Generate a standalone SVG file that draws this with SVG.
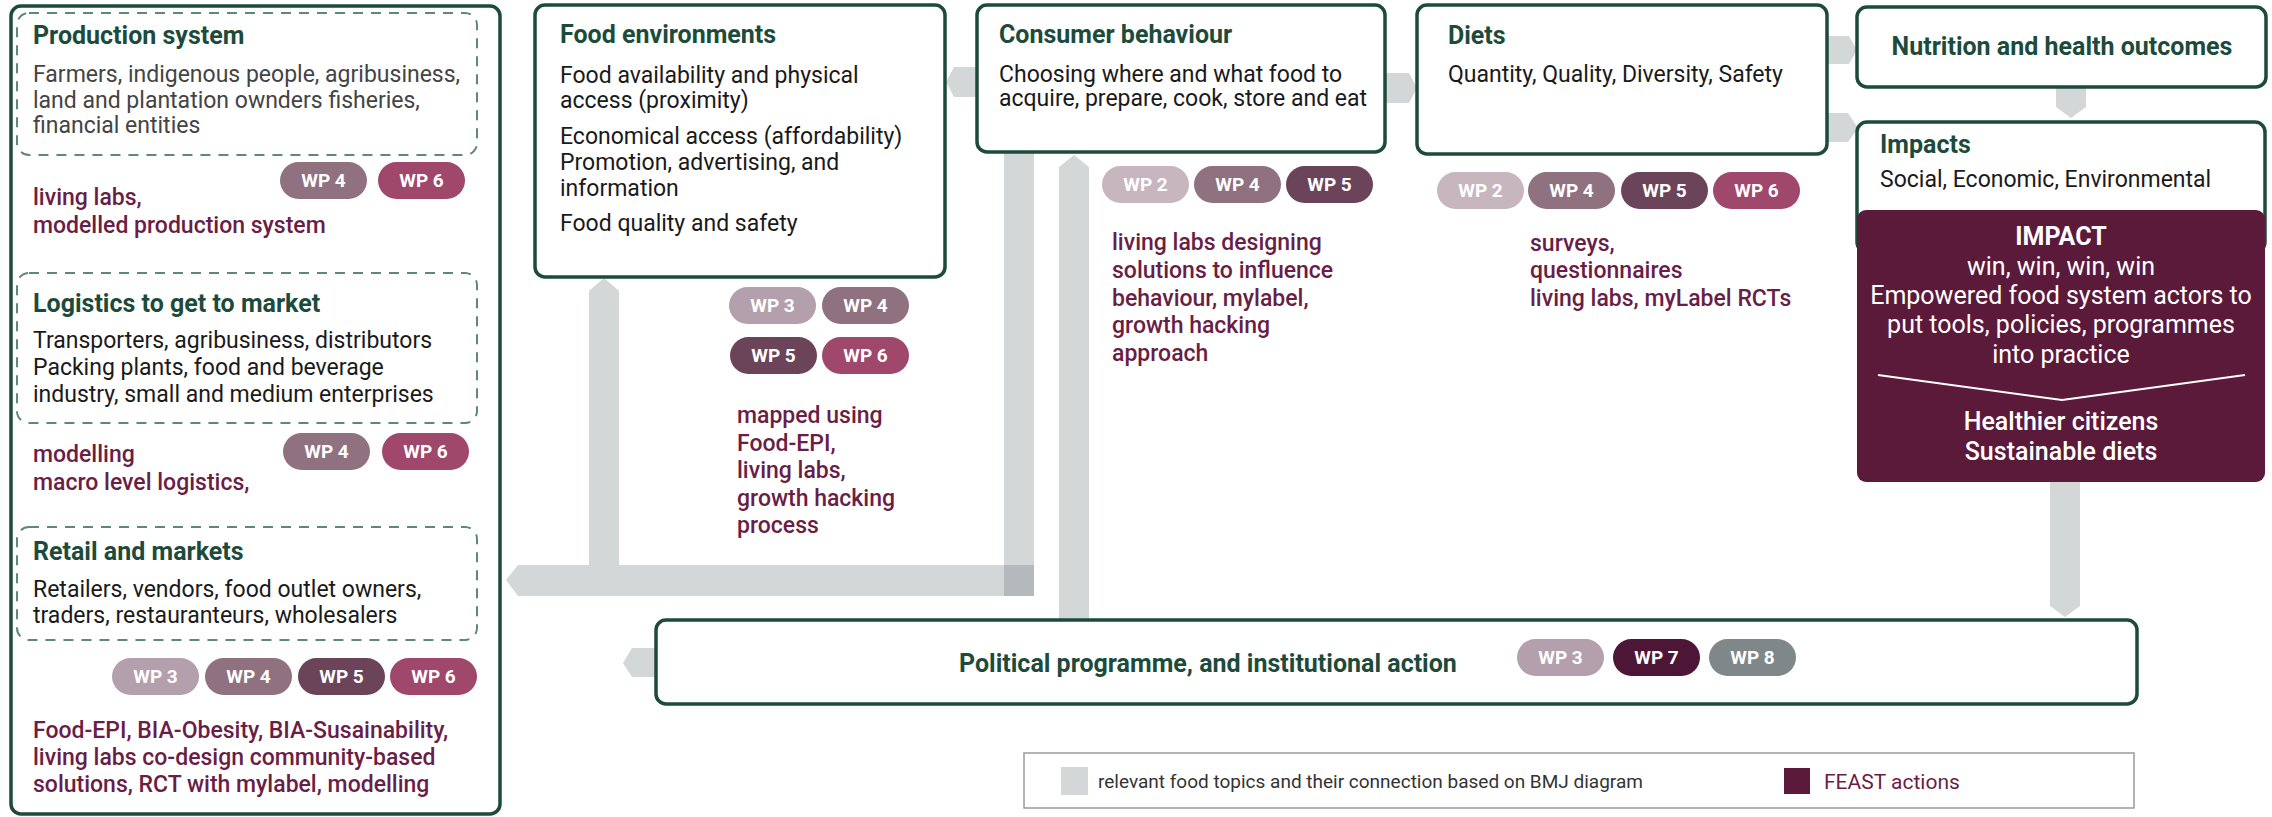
<svg xmlns="http://www.w3.org/2000/svg" width="2272" height="817" viewBox="0 0 2272 817">
  <style>
    text { font-family: Roboto, "Liberation Sans", sans-serif; }
    .title { font-weight: 700; font-size: 25px; fill: #1d4b3b; }
    .body { font-size: 23px; fill: #1a1a1a; }
    .grey { fill: #444; }
    .meth { font-size: 23px; font-weight: 500; fill: #6a1e46; }
    .box { fill: #fff; stroke: #1d4b3b; stroke-width: 3.5; }
    .dash { fill: none; stroke: #5e8878; stroke-width: 2; stroke-dasharray: 10 8; }
    .pill text { font-weight: 700; font-size: 19px; fill: #fff; text-anchor: middle; }
    .conn { fill: #d3d7d8; }
    .wp2 { fill: #c8b6be; } .wp3 { fill: #b4a0ac; } .wp4 { fill: #907180; }
    .wp5 { fill: #6c4459; } .wp6 { fill: #a0476c; } .wp7 { fill: #4e1636; } .wp8 { fill: #808789; }
    .imp { font-size: 25px; fill: #fff; text-anchor: middle; }
  </style>
  <defs>
    <rect id="pillShape" width="87" height="37" rx="18.5"/>
  </defs>

  <!-- connectors -->
  <g id="connectors">
    <polygon class="conn" points="946,82 954,67 977,67 977,97 954,97"/>
    <polygon class="conn" points="1386,73 1409,73 1417,88 1409,103 1386,103"/>
    <polygon class="conn" points="1827,36 1849,36 1857,50 1849,64 1827,64"/>
    <polygon class="conn" points="1827,113 1848,113 1858,128 1848,142 1827,142"/>
    <polygon class="conn" points="2056,87 2086,87 2086,107 2071,118 2056,107"/>
    <rect class="conn" x="1004" y="152" width="30" height="413"/>
    <polygon class="conn" points="506,580 518,565 1004,565 1004,596 518,596"/>
    <rect x="1004" y="565" width="30" height="31" fill="#b4b9bb"/>
    <polygon class="conn" points="589,565 589,291 604,278 619,291 619,565"/>
    <polygon class="conn" points="1059,620 1059,167 1074,155 1089,167 1089,620"/>
    <polygon class="conn" points="2050,482 2080,482 2080,606 2065,617 2050,606"/>
    <polygon class="conn" points="623,663 632,648 656,648 656,677 632,677"/>
  </g>

  <!-- food system actors column -->
  <g id="actors">
    <rect class="box" x="11" y="6" width="489" height="808" rx="10"/>
  </g>

  <g id="production-system">
    <rect class="dash" x="17" y="13" width="460" height="142" rx="12"/>
    <text class="title" x="33" y="44">Production system</text>
    <text class="body grey" x="33" y="82">Farmers, indigenous people, agribusiness,</text>
    <text class="body grey" x="33" y="108">land and plantation ownders fisheries,</text>
    <text class="body grey" x="33" y="133">financial entities</text>
    <g class="pill" transform="translate(280,162)"><use href="#pillShape" class="wp4"/><text x="43.5" y="25">WP 4</text></g>
    <g class="pill" transform="translate(378,162)"><use href="#pillShape" class="wp6"/><text x="43.5" y="25">WP 6</text></g>
    <text class="meth" x="33" y="205">living labs,</text>
    <text class="meth" x="33" y="233">modelled production system</text>
  </g>

  <g id="logistics">
    <rect class="dash" x="17" y="273" width="460" height="150" rx="12"/>
    <text class="title" x="33" y="312">Logistics to get to market</text>
    <text class="body" x="33" y="348">Transporters, agribusiness, distributors</text>
    <text class="body" x="33" y="375">Packing plants, food and beverage</text>
    <text class="body" x="33" y="402">industry, small and medium enterprises</text>
    <g class="pill" transform="translate(283,433)"><use href="#pillShape" class="wp4"/><text x="43.5" y="25">WP 4</text></g>
    <g class="pill" transform="translate(382,433)"><use href="#pillShape" class="wp6"/><text x="43.5" y="25">WP 6</text></g>
    <text class="meth" x="33" y="462">modelling</text>
    <text class="meth" x="33" y="490">macro level logistics,</text>
  </g>

  <g id="retail">
    <rect class="dash" x="17" y="527" width="460" height="113" rx="12"/>
    <text class="title" x="33" y="560">Retail and markets</text>
    <text class="body" x="33" y="597">Retailers, vendors, food outlet owners,</text>
    <text class="body" x="33" y="623">traders, restauranteurs, wholesalers</text>
    <g class="pill" transform="translate(112,658)"><use href="#pillShape" class="wp3"/><text x="43.5" y="25">WP 3</text></g>
    <g class="pill" transform="translate(205,658)"><use href="#pillShape" class="wp4"/><text x="43.5" y="25">WP 4</text></g>
    <g class="pill" transform="translate(298,658)"><use href="#pillShape" class="wp5"/><text x="43.5" y="25">WP 5</text></g>
    <g class="pill" transform="translate(390,658)"><use href="#pillShape" class="wp6"/><text x="43.5" y="25">WP 6</text></g>
    <text class="meth" x="33" y="738">Food-EPI, BIA-Obesity, BIA-Susainability,</text>
    <text class="meth" x="33" y="765">living labs co-design community-based</text>
    <text class="meth" x="33" y="792">solutions, RCT with mylabel, modelling</text>
  </g>

  <g id="food-environments">
    <rect class="box" x="535" y="5" width="410" height="272" rx="10"/>
    <text class="title" x="560" y="43">Food environments</text>
    <text class="body" x="560" y="83">Food availability and physical</text>
    <text class="body" x="560" y="108">access (proximity)</text>
    <text class="body" x="560" y="144">Economical access (affordability)</text>
    <text class="body" x="560" y="170">Promotion, advertising, and</text>
    <text class="body" x="560" y="196">information</text>
    <text class="body" x="560" y="231">Food quality and safety</text>
    <g class="pill" transform="translate(729,287)"><use href="#pillShape" class="wp3"/><text x="43.5" y="25">WP 3</text></g>
    <g class="pill" transform="translate(822,287)"><use href="#pillShape" class="wp4"/><text x="43.5" y="25">WP 4</text></g>
    <g class="pill" transform="translate(730,337)"><use href="#pillShape" class="wp5"/><text x="43.5" y="25">WP 5</text></g>
    <g class="pill" transform="translate(822,337)"><use href="#pillShape" class="wp6"/><text x="43.5" y="25">WP 6</text></g>
    <text class="meth" x="737" y="423">mapped using</text>
    <text class="meth" x="737" y="451">Food-EPI,</text>
    <text class="meth" x="737" y="478">living labs,</text>
    <text class="meth" x="737" y="506">growth hacking</text>
    <text class="meth" x="737" y="533">process</text>
  </g>

  <g id="consumer-behaviour">
    <rect class="box" x="977" y="5" width="408" height="147" rx="10"/>
    <text class="title" x="999" y="43">Consumer behaviour</text>
    <text class="body" x="999" y="82">Choosing where and what food to</text>
    <text class="body" x="999" y="106">acquire, prepare, cook, store and eat</text>
    <g class="pill" transform="translate(1102,166)"><use href="#pillShape" class="wp2"/><text x="43.5" y="25">WP 2</text></g>
    <g class="pill" transform="translate(1194,166)"><use href="#pillShape" class="wp4"/><text x="43.5" y="25">WP 4</text></g>
    <g class="pill" transform="translate(1286,166)"><use href="#pillShape" class="wp5"/><text x="43.5" y="25">WP 5</text></g>
    <text class="meth" x="1112" y="250">living labs designing</text>
    <text class="meth" x="1112" y="278">solutions to influence</text>
    <text class="meth" x="1112" y="306">behaviour, mylabel,</text>
    <text class="meth" x="1112" y="333">growth hacking</text>
    <text class="meth" x="1112" y="361">approach</text>
  </g>

  <g id="diets">
    <rect class="box" x="1417" y="5" width="410" height="149" rx="10"/>
    <text class="title" x="1448" y="44">Diets</text>
    <text class="body" x="1448" y="82">Quantity, Quality, Diversity, Safety</text>
    <g class="pill" transform="translate(1437,172)"><use href="#pillShape" class="wp2"/><text x="43.5" y="25">WP 2</text></g>
    <g class="pill" transform="translate(1528,172)"><use href="#pillShape" class="wp4"/><text x="43.5" y="25">WP 4</text></g>
    <g class="pill" transform="translate(1621,172)"><use href="#pillShape" class="wp5"/><text x="43.5" y="25">WP 5</text></g>
    <g class="pill" transform="translate(1713,172)"><use href="#pillShape" class="wp6"/><text x="43.5" y="25">WP 6</text></g>
    <text class="meth" x="1530" y="251">surveys,</text>
    <text class="meth" x="1530" y="278">questionnaires</text>
    <text class="meth" x="1530" y="306">living labs, myLabel RCTs</text>
  </g>

  <g id="nutrition-health">
    <rect class="box" x="1857" y="7" width="409" height="80" rx="10"/>
    <text class="title" x="2062" y="55" text-anchor="middle">Nutrition and health outcomes</text>
  </g>

  <g id="impacts">
    <rect class="box" x="1857" y="122" width="408" height="130" rx="10"/>
    <text class="title" x="1880" y="153">Impacts</text>
    <text class="body" x="1880" y="187">Social, Economic, Environmental</text>
    <rect x="1857" y="210" width="408" height="272" rx="9" fill="#5c1a3b"/>
    <text class="imp" x="2061" y="245" font-weight="700">IMPACT</text>
    <text class="imp" x="2061" y="275">win, win, win, win</text>
    <text class="imp" x="2061" y="304">Empowered food system actors to</text>
    <text class="imp" x="2061" y="333">put tools, policies, programmes</text>
    <text class="imp" x="2061" y="363">into practice</text>
    <polyline points="1878,375 2062,400 2245,375" fill="none" stroke="#fff" stroke-width="2"/>
    <text class="imp" x="2061" y="430" font-weight="500">Healthier citizens</text>
    <text class="imp" x="2061" y="460" font-weight="500">Sustainable diets</text>
  </g>

  <g id="political-action">
    <rect class="box" x="656" y="620" width="1481" height="84" rx="10"/>
    <text class="title" x="959" y="672">Political programme, and institutional action</text>
    <g class="pill" transform="translate(1517,639)"><use href="#pillShape" class="wp3"/><text x="43.5" y="25">WP 3</text></g>
    <g class="pill" transform="translate(1613,639)"><use href="#pillShape" class="wp7"/><text x="43.5" y="25">WP 7</text></g>
    <g class="pill" transform="translate(1709,639)"><use href="#pillShape" class="wp8"/><text x="43.5" y="25">WP 8</text></g>
  </g>

  <g id="legend">
    <rect x="1024" y="753" width="1110" height="55" fill="#fff" stroke="#9a9a9a" stroke-width="1.5"/>
    <rect x="1061" y="767" width="27" height="28" fill="#d3d7d8"/>
    <text x="1098" y="788" font-size="19" fill="#333">relevant food topics and their connection based on BMJ diagram</text>
    <rect x="1784" y="768" width="26" height="26" fill="#5c1a3b"/>
    <text x="1824" y="789" font-size="21" fill="#6a1e46">FEAST actions</text>
  </g>
</svg>
